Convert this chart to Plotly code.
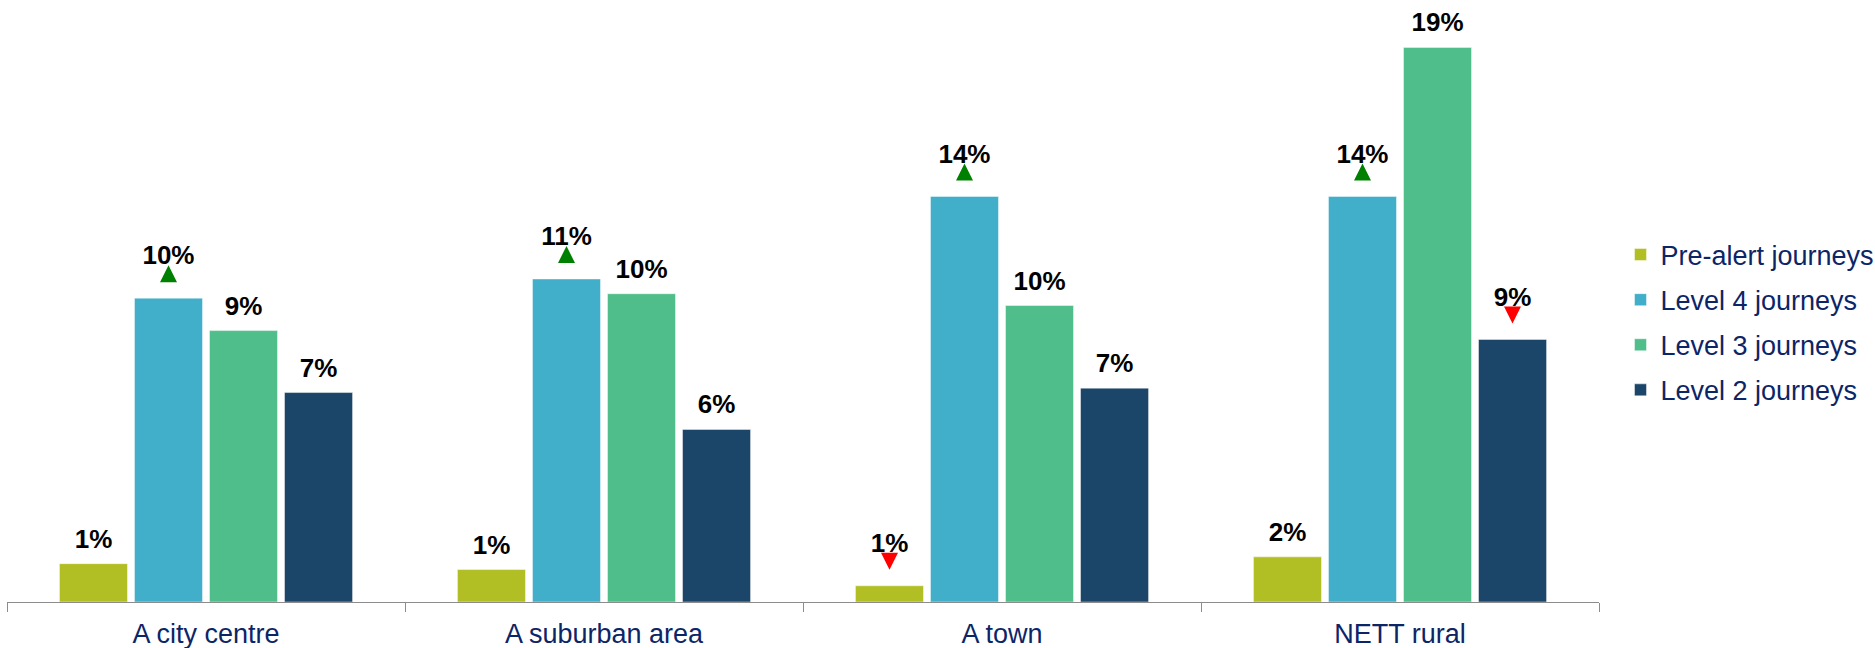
import plotly.graph_objects as go

# ---- data ----
categories = ["A city centre", "A suburban area", "A town", "NETT rural"]
series_names = ["Pre-alert journeys", "Level 4 journeys", "Level 3 journeys", "Level 2 journeys"]
pre_alert = [1.3, 1.1, 0.55, 1.53]
level4 = [10.3, 10.95, 13.75, 13.75]
level3 = [9.2, 10.45, 10.05, 18.8]
level2 = [7.1, 5.85, 7.25, 8.9]
# significance markers: 1 = up (green), -1 = down (red), 0 = none
pre_alert_sig = [0, 0, -1, 0]
level4_sig = [1, 1, 1, 1]
level3_sig = [0, 0, 0, 0]
level2_sig = [0, 0, 0, -1]

# ---- styles ----
colors = ["#b1bf24", "#41afca", "#50be8a", "#1b4569"]
FONT = "Liberation Sans, Arial, sans-serif"
TEXT_NAVY = "#0c2567"
W, H = 1875, 648
M_L, M_R, M_T, M_B = 7, 276, 12, 46
Y_MAX = 20
PPU = (H - M_T - M_B) / Y_MAX  # pixels per data unit
UP_OFF = 33 / PPU     # apex of up arrow above bar top
DOWN_OFF = 16 / PPU   # apex of down arrow above bar top

series = [
    (series_names[0], pre_alert, pre_alert_sig, colors[0]),
    (series_names[1], level4, level4_sig, colors[1]),
    (series_names[2], level3, level3_sig, colors[2]),
    (series_names[3], level2, level2_sig, colors[3]),
]

fig = go.Figure()

for k, (name, vals, sig, col) in enumerate(series):
    fig.add_trace(go.Bar(
        x=categories, y=vals, name=name,
        marker=dict(color=col, line=dict(color="rgba(255,255,255,0.45)", width=1)),
        offsetgroup=str(k), alignmentgroup="a", legendgroup=name,
        hoverinfo="x+y+name",
    ))

for k, (name, vals, sig, col) in enumerate(series):
    # value labels (invisible markers push the text up; larger when an arrow sits below)
    fig.add_trace(go.Scatter(
        x=categories, y=vals, mode="markers+text",
        text=[f"{v:.0f}%" for v in vals], textposition="top center",
        textfont=dict(family=FONT, size=26, color="#000000", weight="bold"),
        marker=dict(size=[42 if s else 13.6 for s in sig], opacity=0),
        offsetgroup=str(k), alignmentgroup="a", orientation="v",
        showlegend=False, hoverinfo="skip",
    ))
    # significance arrows
    ty = [v + (UP_OFF if s > 0 else DOWN_OFF) if s else None for v, s in zip(vals, sig)]
    fig.add_trace(go.Scatter(
        x=categories, y=ty, mode="markers",
        marker=dict(
            symbol=["arrow-up" if s > 0 else "arrow-down" for s in sig],
            color=["#008000" if s > 0 else "#ff0000" for s in sig],
            size=17, line=dict(width=0),
        ),
        offsetgroup=str(k), alignmentgroup="a", orientation="v",
        showlegend=False, hoverinfo="skip",
    ))

fig.update_layout(
    width=W, height=H,
    margin=dict(l=M_L, r=M_R, t=M_T, b=M_B, autoexpand=False),
    paper_bgcolor="white", plot_bgcolor="white",
    font=dict(family=FONT, size=27, color=TEXT_NAVY),
    barmode="group", bargap=0.246, bargroupgap=0.093,
    scattermode="group", scattergap=0.246,
    showlegend=True,
    legend=dict(
        xref="container", yref="container",
        x=1620.5 / W, y=1 - 322.5 / H, xanchor="left", yanchor="middle",
        font=dict(family=FONT, size=27, color=TEXT_NAVY),
        traceorder="grouped", tracegroupgap=7,
        bgcolor="rgba(0,0,0,0)",
    ),
    xaxis=dict(
        type="category", showline=True, linecolor="#8c8c8c", linewidth=1,
        ticks="outside", tickson="boundaries", ticklen=9, tickcolor="#8c8c8c",
        tickfont=dict(family=FONT, size=27, color=TEXT_NAVY),
        ticklabelstandoff=8, showgrid=False, zeroline=False, automargin=False,
    ),
    yaxis=dict(visible=False, range=[0, Y_MAX], showgrid=False, zeroline=False),
)

fig.write_html(
    "out.html",
    config={"displayModeBar": False},
    post_script="document.body.style.margin='0px';",
)
